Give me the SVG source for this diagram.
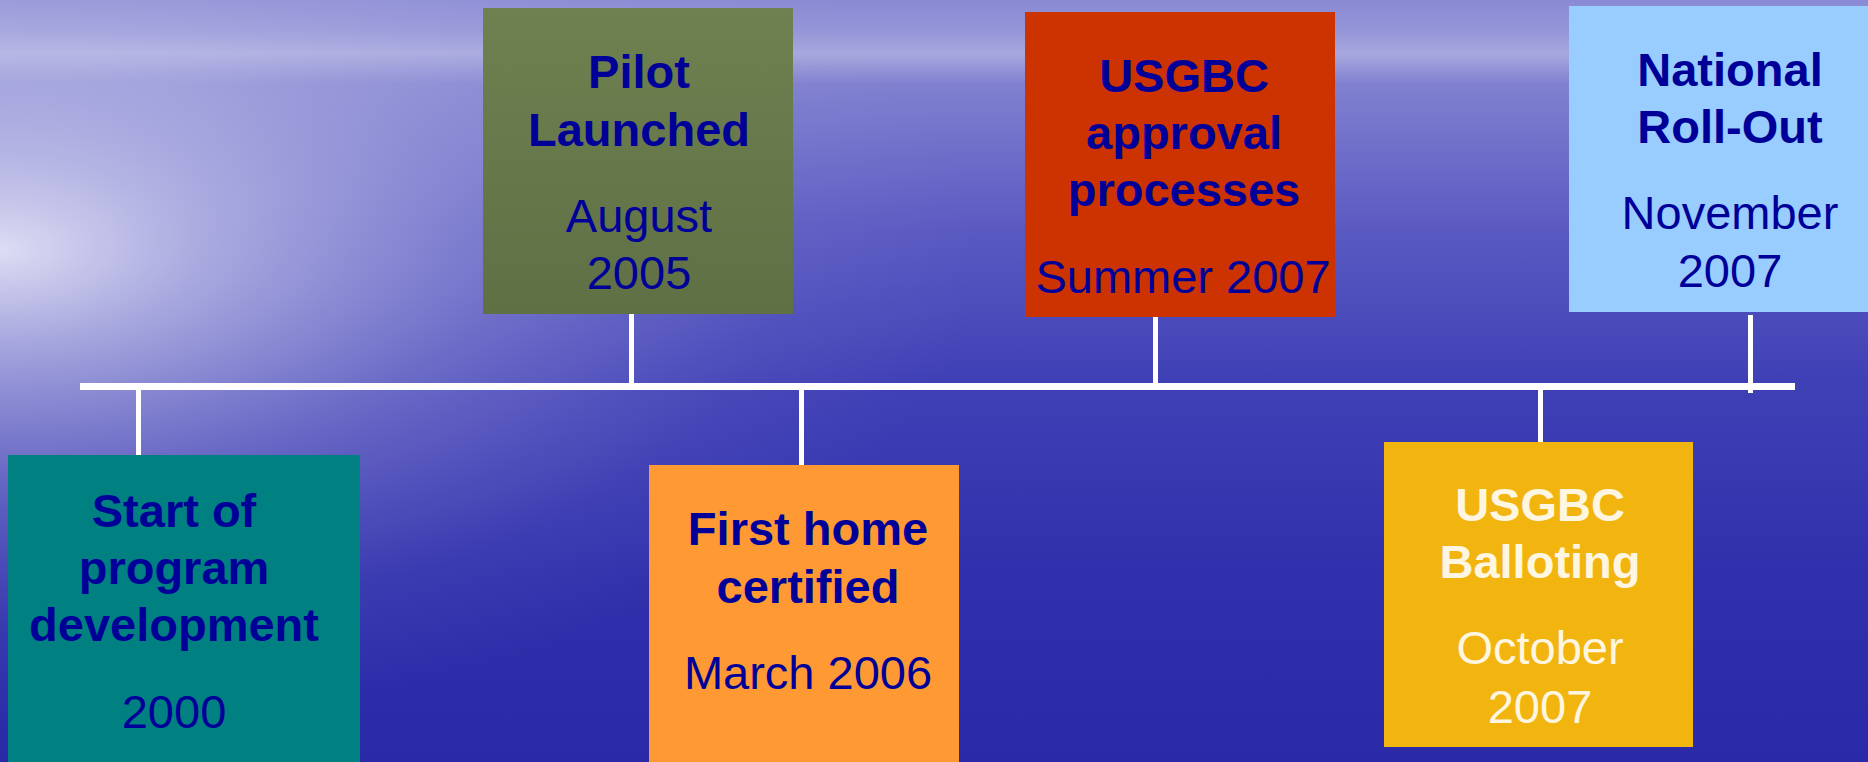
<svg xmlns="http://www.w3.org/2000/svg" width="1868" height="762" viewBox="0 0 1868 762">
<defs>
<linearGradient id="bgv" x1="0" y1="0" x2="0" y2="1">
<stop offset="0" stop-color="#8A8AD4"/>
<stop offset="0.04" stop-color="#9494D8"/>
<stop offset="0.07" stop-color="#A8A8DE"/>
<stop offset="0.11" stop-color="#8080D0"/>
<stop offset="0.3" stop-color="#5A5AC2"/>
<stop offset="0.5" stop-color="#4040B6"/>
<stop offset="0.75" stop-color="#3030AC"/>
<stop offset="1" stop-color="#2A2AA8"/>
</linearGradient>
<radialGradient id="glow" gradientUnits="userSpaceOnUse" cx="0" cy="0" r="1" gradientTransform="translate(0 250) scale(980 480)">
<stop offset="0" stop-color="#F4F4FC" stop-opacity="0.85"/>
<stop offset="0.2" stop-color="#E4E4F6" stop-opacity="0.6"/>
<stop offset="0.5" stop-color="#C8C8EC" stop-opacity="0.3"/>
<stop offset="0.8" stop-color="#B0B0E4" stop-opacity="0.08"/>
<stop offset="1" stop-color="#B0B0E4" stop-opacity="0"/>
</radialGradient>
<linearGradient id="pilotg" x1="0" y1="0" x2="0" y2="1">
<stop offset="0" stop-color="#6F8150"/>
<stop offset="1" stop-color="#5F7045"/>
</linearGradient>
<style>
.t{font-family:"Liberation Sans",Arial,sans-serif;font-size:47px;text-anchor:middle;fill:#000099}
.b{font-weight:bold}
.w{fill:#FFF6E2}
.c{fill:#FFFFFF}
</style>
</defs>
<g id="background">
<rect x="0" y="0" width="1868" height="762" fill="url(#bgv)"/>
<rect x="0" y="0" width="1868" height="762" fill="url(#glow)"/>
</g>
<g id="connectors">
<rect class="c" x="80" y="383" width="1715" height="7"/>
<rect class="c" x="136" y="390" width="5" height="65"/>
<rect class="c" x="629" y="314" width="5" height="69"/>
<rect class="c" x="799" y="390" width="5" height="75"/>
<rect class="c" x="1153" y="317" width="5" height="66"/>
<rect class="c" x="1538" y="390" width="5" height="52"/>
<rect class="c" x="1748" y="315" width="5" height="78"/>
</g>
<g id="start">
<rect x="8" y="455" width="352" height="307" fill="#008080"/>
<text class="t b" x="174" y="527">Start of</text>
<text class="t b" x="174" y="584">program</text>
<text class="t b" x="174" y="641">development</text>
<text class="t" x="174" y="728">2000</text>
</g>
<g id="pilot">
<rect x="483" y="8" width="310" height="306" fill="url(#pilotg)"/>
<text class="t b" x="639" y="88">Pilot</text>
<text class="t b" x="639" y="146">Launched</text>
<text class="t" x="639" y="232">August</text>
<text class="t" x="639" y="289">2005</text>
</g>
<g id="firsthome">
<rect x="649" y="465" width="310" height="297" fill="#FF9933"/>
<text class="t b" x="808" y="545">First home</text>
<text class="t b" x="808" y="603">certified</text>
<text class="t" x="808" y="689">March 2006</text>
</g>
<g id="approval">
<rect x="1025" y="12" width="310" height="305" fill="#CC3300"/>
<text class="t b" x="1184" y="92">USGBC</text>
<text class="t b" x="1184" y="149">approval</text>
<text class="t b" x="1184" y="206">processes</text>
<text class="t" x="1183" y="293">Summer 2007</text>
</g>
<g id="balloting">
<rect x="1384" y="442" width="309" height="305" fill="#F2B50F"/>
<text class="t b w" x="1540" y="521">USGBC</text>
<text class="t b w" x="1540" y="578">Balloting</text>
<text class="t w" x="1540" y="664">October</text>
<text class="t w" x="1540" y="723">2007</text>
</g>
<g id="national">
<rect x="1569" y="6" width="299" height="306" fill="#99CCFF"/>
<text class="t b" x="1730" y="86">National</text>
<text class="t b" x="1730" y="143">Roll-Out</text>
<text class="t" x="1730" y="229">November</text>
<text class="t" x="1730" y="287">2007</text>
</g>
</svg>
